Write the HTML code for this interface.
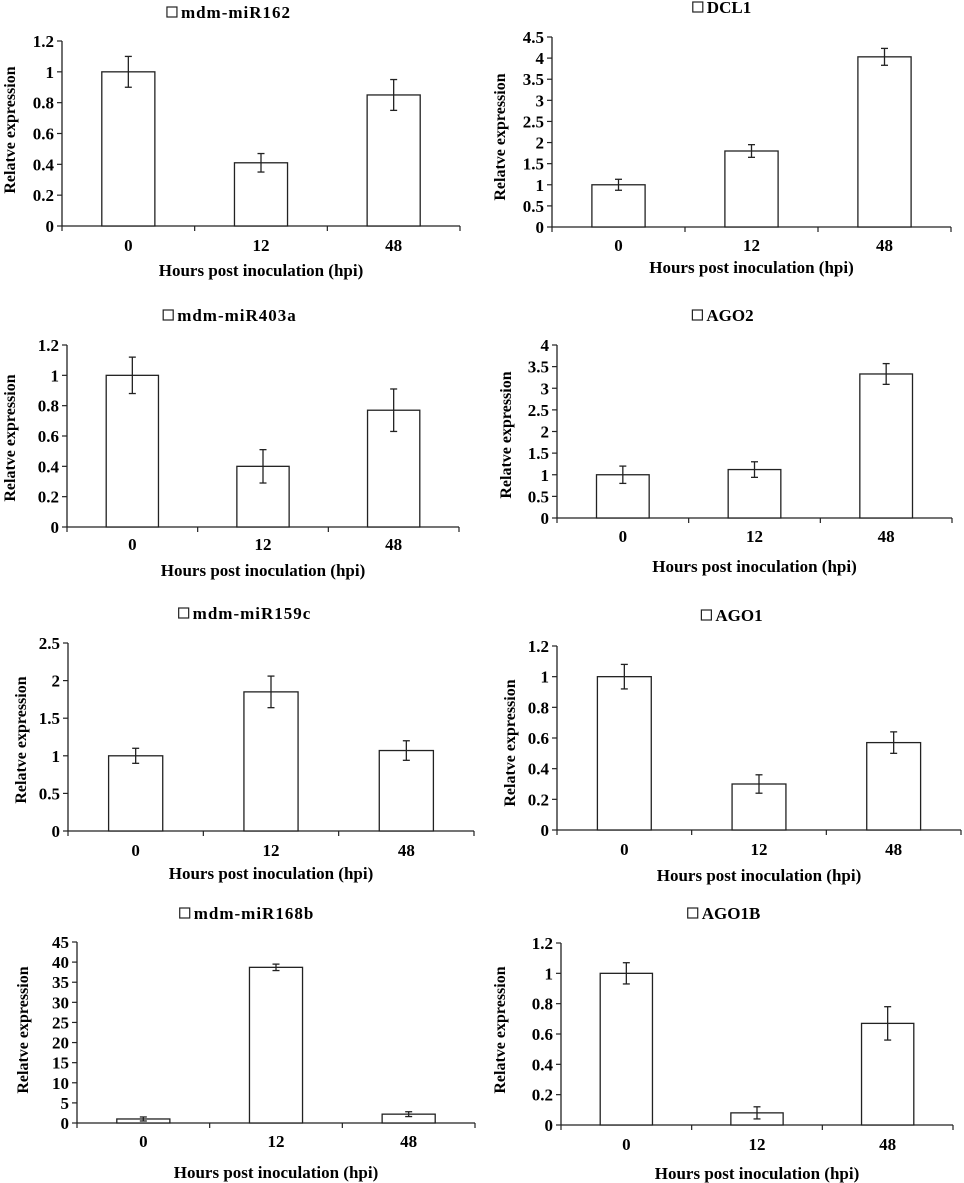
<!DOCTYPE html>
<html><head><meta charset="utf-8"><style>
html,body{margin:0;padding:0;background:#fff;}
svg{display:block;font-family:"Liberation Serif",serif;font-weight:bold;}
</style></head><body>
<svg id="fig" width="964" height="1183" viewBox="0 0 964 1183" xmlns="http://www.w3.org/2000/svg"></svg>
<script>
const categories = ["0","12","48"];
const titles = ["mdm-miR162","DCL1","mdm-miR403a","AGO2","mdm-miR159c","AGO1","mdm-miR168b","AGO1B"];
const values = [[1,0.41,0.85],[1,1.8,4.03],[1,0.4,0.77],[1,1.12,3.33],[1,1.85,1.07],[1,0.3,0.57],[1,38.7,2.2],[1,0.08,0.67]];
const errors = [[0.1,0.06,0.1],[0.13,0.15,0.2],[0.12,0.11,0.14],[0.2,0.18,0.24],[0.1,0.21,0.13],[0.08,0.06,0.07],[0.5,0.8,0.6],[0.07,0.04,0.11]];
const yMax = [1.2,4.5,1.2,4,2.5,1.2,45,1.2];
const yStep = [0.2,0.5,0.2,0.5,0.5,0.2,5,0.2];
// layout: left, right, top, zero, titleY, titleX, tickY, xtitleY, ylabelX, ylabelY
const layout = [
 [62,460,41,226,12,229,245,270,9,130],
 [552,951,37,227,7,722,245,267,499,137],
 [67,459,345,527,315,230,544,570,9,438],
 [557,952,345,518,315,723,536,566,505,435],
 [68,474,643,831,613,245,850,873,20,740],
 [557,961,646,830,615,732,849,875,509,743],
 [77,475,942,1123,913,247,1141,1172,22,1030],
 [561,953,943,1125,913,724,1144,1173,499,1030]
];
const NS="http://www.w3.org/2000/svg";
const svg=document.getElementById('fig');
function mk(tag,attrs,parent){const e=document.createElementNS(NS,tag);for(const k in attrs)e.setAttribute(k,attrs[k]);(parent||svg).appendChild(e);return e;}
function fmt(v){return String(Math.round(v*10)/10);}
for(let p=0;p<8;p++){
  const [L,R,T,Z,ty,tx,tickY,xtY,ylX,ylY]=layout[p];
  const g=mk('g',{});
  
  
  const y=v=>Z-(v/yMax[p])*(Z-T);
  const cw=(R-L)/categories.length;
  const x=i=>L+cw*(i+0.5);
  const tg=mk('g',{},g);
  
  
  const tt=mk('text',{x:0,y:ty+6,'font-size':17,'text-anchor':'start','letter-spacing':titles[p].startsWith('mdm')?'1':'0'},tg);
  tt.textContent=titles[p];
  const tw=tt.getComputedTextLength();
  const total=tw+14;
  const sx=tx-total/2;
  tt.setAttribute('x',sx+14);
  const sw=mk('rect',{x:sx,y:ty-5,width:10,height:10,fill:'#fff',stroke:'#222','stroke-width':1.2},tg);
  
  
  const ya=mk('line',{x1:L,y1:T,x2:L,y2:Z,stroke:'#222','stroke-width':1.3},g);
  
  
  const n=Math.round(yMax[p]/yStep[p]);
  for(let k=0;k<=n;k++){
    const v=k*yStep[p];const yy=y(v);
    mk('line',{x1:L-5,y1:yy,x2:L,y2:yy,stroke:'#222','stroke-width':1.2},g);
    const lt=mk('text',{x:L-8,y:yy+6,'font-size':17,'text-anchor':'end'},g);
    
    
    lt.textContent=fmt(v);
  }
  const xa=mk('line',{x1:L,y1:Z,x2:R,y2:Z,stroke:'#222','stroke-width':1.3},g);
  
  
  for(let i=0;i<=categories.length;i++){
    mk('line',{x1:L+cw*i,y1:Z,x2:L+cw*i,y2:Z+5,stroke:'#222','stroke-width':1.2},g);
  }
  const bw=cw*0.4;
  categories.forEach((c,i)=>{
    const v=values[p][i],e=errors[p][i];
    const b=mk('rect',{x:x(i)-bw/2,y:y(v),width:bw,height:Z-y(v),fill:'#fff',stroke:'#222','stroke-width':1.3},g);
    
    
    const eb=mk('g',{stroke:'#222','stroke-width':1.3},g);
    
    
    mk('line',{x1:x(i),y1:y(v+e),x2:x(i),y2:y(v-e)},eb);
    mk('line',{x1:x(i)-3.5,y1:y(v+e),x2:x(i)+3.5,y2:y(v+e)},eb);
    mk('line',{x1:x(i)-3.5,y1:y(v-e),x2:x(i)+3.5,y2:y(v-e)},eb);
    const xl=mk('text',{x:x(i),y:tickY+6,'font-size':17,'text-anchor':'middle'},g);
    
    
    xl.textContent=c;
  });
  const xt=mk('text',{x:(L+R)/2,y:xtY+6,'font-size':17,'text-anchor':'middle','xml:space':'preserve'},g);
  
  
  xt.textContent='Hours  post inoculation  (hpi)';
  const yt=mk('text',{x:0,y:0,'font-size':16,'text-anchor':'middle',transform:'translate('+(ylX+6)+','+ylY+') rotate(-90)'},g);
  
  
  yt.textContent='Relatve expression';
}
</script>
</body></html>
